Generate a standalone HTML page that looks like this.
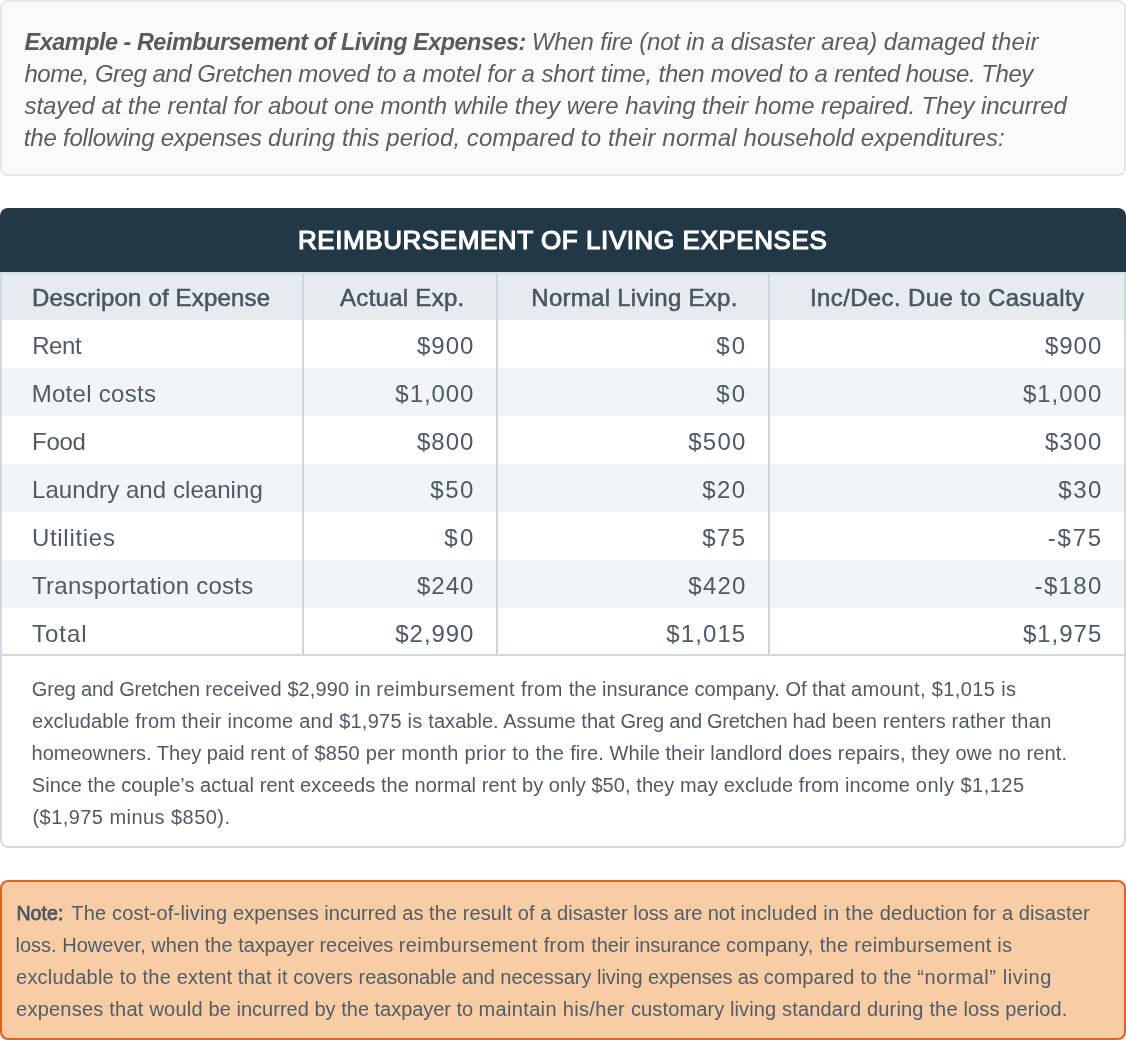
<!DOCTYPE html>
<html lang="en">
<head>
<meta charset="utf-8">
<title>Reimbursement of Living Expenses</title>
<style>
*{box-sizing:border-box;margin:0;padding:0}
html,body{width:1126px;height:1040px;background:#fff;overflow:hidden}
body{font-family:"Liberation Sans",sans-serif;position:relative}
.ln{display:block;white-space:nowrap}
.example{position:absolute;left:0;top:0;width:1126px;height:176px;border:2px solid #e5e9ed;border-radius:8px;background:#f9fafb;padding:23.5px 22px 20.5px;font-size:24px;line-height:32px;font-style:italic;color:#5d5d5d}
.example b{color:#5a5a5a;font-weight:bold;font-size:23.4px}
.card{position:absolute;left:0;top:208px;width:1126px;height:640px;border-radius:8px;overflow:hidden;background:#fff}
.card .frame{position:absolute;left:0;top:64px;width:1126px;height:576px;border:2px solid #d1d8df;border-top:none;border-radius:0 0 8px 8px;z-index:5}
.title{position:absolute;left:0;top:0;width:1126px;height:64px;background:#213846;color:#fff;font-weight:normal;-webkit-text-stroke:1.2px #fff;font-size:26px;line-height:64px;white-space:nowrap}
.title span{position:absolute!important;top:0}
.row{position:absolute;left:0;width:1126px;height:48px;font-size:24px;line-height:48px;color:#4f5a65}
.row.alt{background:#f1f5f8}
.row.head{background:#e6ebef;color:#4a5560;-webkit-text-stroke:0.55px #4a5560}
.row.head:before{content:"";position:absolute;left:0;top:0;width:100%;height:1px;background:#dee3e7}
.row.head:after{content:"";position:absolute;left:0;top:1px;width:100%;height:1px;background:#d1d8df}
.c{position:absolute;top:2px;left:0;height:48px;white-space:nowrap}
.vd{position:absolute;top:65px;width:2px;height:381px;background:#ced5dc;z-index:4}
.hsep{position:absolute;left:0;top:446px;width:1126px;height:2px;background:#d1d8df;z-index:4}
.para{position:absolute;left:0;top:465px;font-size:20px;line-height:32px;color:#4f5a65}
.note{position:absolute;left:0;top:880px;width:1126px;height:160px;border:2px solid #e8601f;border-radius:8px;background:#f8cda3;padding:15px 0 13px;font-size:20px;line-height:32px;color:#4f5d6b}
.note b{font-weight:normal;font-size:19.6px;color:#4a5764;-webkit-text-stroke:0.75px #4a5764}
.example,.card,.note{will-change:transform}

</style>
</head>
<body>
<div class="example">
<span class="ln"><b><span id="e1b" style="letter-spacing:-0.463px;position:relative;left:0.57px">Example - Reimbursement of Living Expenses:</span></b> <span id="e1r" style="position:relative;left:-0.24px"><span id="e1r_0" style="letter-spacing:-0.190px">When fire (not in a </span><span id="e1r_1" style="letter-spacing:-0.022px">disaster area) </span><span id="e1r_2" style="letter-spacing:0.097px">damaged their</span></span></span>
<span class="ln"><span id="e2" style="position:relative;left:0.44px"><span id="e2_0" style="letter-spacing:-0.486px">home, Greg and Gretchen </span><span id="e2_1" style="letter-spacing:-0.101px">moved to a motel for a short </span><span id="e2_2" style="letter-spacing:-0.184px">time, then moved to a </span><span id="e2_3" style="letter-spacing:-0.453px">rented house. They</span></span></span>
<span class="ln"><span id="e3" style="position:relative;left:0.61px"><span id="e3_0" style="letter-spacing:-0.087px">stayed at the rental for about one </span><span id="e3_1" style="letter-spacing:-0.032px">month while they were </span><span id="e3_2" style="letter-spacing:-0.090px">having their home repaired. </span><span id="e3_3" style="letter-spacing:-0.128px">They incurred</span></span></span>
<span class="ln"><span id="e4" style="position:relative;left:-0.15px"><span id="e4_0" style="letter-spacing:-0.228px">the following expenses </span><span id="e4_1" style="letter-spacing:0.065px">during this period, compared </span><span id="e4_2" style="letter-spacing:0.165px">to their normal </span><span id="e4_3" style="letter-spacing:-0.023px">household expenditures:</span></span></span>
</div>
<div class="card">
<div class="title"><span id="t0" style="letter-spacing:0.579px;position:relative;left:297.90px">REIMBURSEMENT OF LIVING EXPENSES</span></div>
<div class="row head" style="top:64px"><span class="c c1"><span id="h1" style="letter-spacing:0.169px;position:relative;left:32.01px">Descripon of Expense</span></span><span class="c c2"><span id="h2" style="letter-spacing:0.275px;position:relative;left:340.09px">Actual Exp.</span></span><span class="c c3"><span id="h3" style="letter-spacing:0.270px;position:relative;left:531.35px">Normal Living Exp.</span></span><span class="c c4"><span id="h4" style="letter-spacing:0.370px;position:relative;left:810.01px">Inc/Dec. Due to Casualty</span></span></div>
<div class="row" style="top:112px"><span class="c c1"><span id="r1a" style="letter-spacing:-0.419px;position:relative;left:32.16px">Rent</span></span><span class="c c2"><span id="r1b" style="letter-spacing:1.034px;position:relative;left:416.95px">$900</span></span><span class="c c3"><span id="r1c" style="letter-spacing:2.021px;position:relative;left:716.37px">$0</span></span><span class="c c4"><span id="r1d" style="letter-spacing:0.980px;position:relative;left:1044.95px">$900</span></span></div>
<div class="row alt" style="top:160px"><span class="c c1"><span id="r2a" style="letter-spacing:0.283px;position:relative;left:31.70px">Motel costs</span></span><span class="c c2"><span id="r2b" style="letter-spacing:0.924px;position:relative;left:395.36px">$1,000</span></span><span class="c c3"><span id="r2c" style="letter-spacing:2.051px;position:relative;left:716.37px">$0</span></span><span class="c c4"><span id="r2d" style="letter-spacing:0.985px;position:relative;left:1022.96px">$1,000</span></span></div>
<div class="row" style="top:208px"><span class="c c1"><span id="r3a" style="letter-spacing:-0.281px;position:relative;left:32.00px">Food</span></span><span class="c c2"><span id="r3b" style="letter-spacing:1.024px;position:relative;left:416.95px">$800</span></span><span class="c c3"><span id="r3c" style="letter-spacing:1.162px;position:relative;left:688.36px">$500</span></span><span class="c c4"><span id="r3d" style="letter-spacing:0.980px;position:relative;left:1044.95px">$300</span></span></div>
<div class="row alt" style="top:256px"><span class="c c1"><span id="r4a" style="letter-spacing:0.064px;position:relative;left:32.05px">Laundry and cleaning</span></span><span class="c c2"><span id="r4b" style="letter-spacing:1.519px;position:relative;left:430.36px">$50</span></span><span class="c c3"><span id="r4c" style="letter-spacing:1.350px;position:relative;left:702.36px">$20</span></span><span class="c c4"><span id="r4d" style="letter-spacing:1.471px;position:relative;left:1058.36px">$30</span></span></div>
<div class="row" style="top:304px"><span class="c c1"><span id="r5a" style="letter-spacing:0.712px;position:relative;left:31.88px">Utilities</span></span><span class="c c2"><span id="r5b" style="letter-spacing:2.356px;position:relative;left:444.36px">$0</span></span><span class="c c3"><span id="r5c" style="letter-spacing:1.376px;position:relative;left:702.37px">$75</span></span><span class="c c4"><span id="r5d" style="letter-spacing:1.761px;position:relative;left:1047.86px">-$75</span></span></div>
<div class="row alt" style="top:352px"><span class="c c1"><span id="r6a" style="letter-spacing:0.242px;position:relative;left:32.07px">Transportation costs</span></span><span class="c c2"><span id="r6b" style="letter-spacing:1.036px;position:relative;left:416.96px">$240</span></span><span class="c c3"><span id="r6c" style="letter-spacing:1.170px;position:relative;left:688.37px">$420</span></span><span class="c c4"><span id="r6d" style="letter-spacing:1.334px;position:relative;left:1034.60px">-$180</span></span></div>
<div class="row" style="top:400px"><span class="c c1"><span id="r7a" style="letter-spacing:0.975px;position:relative;left:32.04px">Total</span></span><span class="c c2"><span id="r7b" style="letter-spacing:0.937px;position:relative;left:395.32px">$2,990</span></span><span class="c c3"><span id="r7c" style="letter-spacing:1.077px;position:relative;left:666.36px">$1,015</span></span><span class="c c4"><span id="r7d" style="letter-spacing:0.980px;position:relative;left:1022.95px">$1,975</span></span></div>
<div class="vd" style="left:302px"></div>
<div class="vd" style="left:496px"></div>
<div class="vd" style="left:768px"></div>
<div class="hsep"></div>
<div class="para">
<span class="ln"><span id="p1" style="position:relative;left:31.87px"><span id="p1_0" style="letter-spacing:-0.186px">Greg and Gretchen </span><span id="p1_1" style="letter-spacing:0.106px">received $2,990 in </span><span id="p1_2" style="letter-spacing:0.415px">reimbursement from </span><span id="p1_3" style="letter-spacing:0.012px">the insurance company. Of that </span><span id="p1_4" style="letter-spacing:0.367px">amount, $1,015 is</span></span></span>
<span class="ln"><span id="p2" style="position:relative;left:32.11px"><span id="p2_0" style="letter-spacing:0.189px">excludable from their </span><span id="p2_1" style="letter-spacing:0.246px">income and $1,975 is </span><span id="p2_2" style="letter-spacing:0.043px">taxable. Assume that </span><span id="p2_3" style="letter-spacing:-0.259px">Greg and Gretchen </span><span id="p2_4" style="letter-spacing:0.132px">had been renters </span><span id="p2_5" style="letter-spacing:0.300px">rather than</span></span></span>
<span class="ln"><span id="p3" style="position:relative;left:31.55px"><span id="p3_0" style="letter-spacing:0.000px">homeowners. They paid </span><span id="p3_1" style="letter-spacing:0.254px">rent of $850 per </span><span id="p3_2" style="letter-spacing:0.348px">month prior to the </span><span id="p3_3" style="letter-spacing:0.064px">fire. While their </span><span id="p3_4" style="letter-spacing:0.137px">landlord does repairs, </span><span id="p3_5" style="letter-spacing:0.139px">they owe no rent.</span></span></span>
<span class="ln"><span id="p4" style="position:relative;left:31.79px"><span id="p4_0" style="letter-spacing:0.042px">Since the couple’s </span><span id="p4_1" style="letter-spacing:0.089px">actual rent exceeds the </span><span id="p4_2" style="letter-spacing:0.057px">normal rent by only </span><span id="p4_3" style="letter-spacing:0.077px">$50, they may exclude </span><span id="p4_4" style="letter-spacing:0.119px">from income </span><span id="p4_5" style="letter-spacing:0.486px">only $1,125</span></span></span>
<span class="ln"><span id="p5" style="letter-spacing:0.444px;position:relative;left:32.51px">($1,975 minus $850).</span></span>
</div>
<div class="frame"></div>
</div>
<div class="note">
<span class="ln"><b><span id="n1b" style="letter-spacing:0.058px;position:relative;left:14.39px">Note:</span></b> <span id="n1r" style="position:relative;left:16.52px"><span id="n1r_0" style="letter-spacing:0.208px">The cost-of-living </span><span id="n1r_1" style="letter-spacing:0.020px">expenses incurred as </span><span id="n1r_2" style="letter-spacing:0.077px">the result of a disaster </span><span id="n1r_3" style="letter-spacing:-0.135px">loss are not </span><span id="n1r_4" style="letter-spacing:0.297px">included in the </span><span id="n1r_5" style="letter-spacing:0.061px">deduction for a </span><span id="n1r_6" style="letter-spacing:0.121px">disaster</span></span></span>
<span class="ln"><span id="n2" style="position:relative;left:13.43px"><span id="n2_0" style="letter-spacing:0.018px">loss. However, when the </span><span id="n2_1" style="letter-spacing:-0.102px">taxpayer receives </span><span id="n2_2" style="letter-spacing:0.430px">reimbursement from </span><span id="n2_3" style="letter-spacing:-0.135px">their insurance </span><span id="n2_4" style="letter-spacing:0.324px">company, the </span><span id="n2_5" style="letter-spacing:0.294px">reimbursement is</span></span></span>
<span class="ln"><span id="n3" style="position:relative;left:14.06px"><span id="n3_0" style="letter-spacing:0.222px">excludable to the </span><span id="n3_1" style="letter-spacing:0.127px">extent that it covers </span><span id="n3_2" style="letter-spacing:-0.118px">reasonable and </span><span id="n3_3" style="letter-spacing:-0.002px">necessary living </span><span id="n3_4" style="letter-spacing:-0.177px">expenses as </span><span id="n3_5" style="letter-spacing:0.213px">compared to the </span><span id="n3_6" style="letter-spacing:0.603px">“normal” living</span></span></span>
<span class="ln"><span id="n4" style="position:relative;left:14.06px"><span id="n4_0" style="letter-spacing:0.233px">expenses that would </span><span id="n4_1" style="letter-spacing:0.018px">be incurred by the </span><span id="n4_2" style="letter-spacing:-0.044px">taxpayer to </span><span id="n4_3" style="letter-spacing:0.332px">maintain his/her </span><span id="n4_4" style="letter-spacing:0.120px">customary living </span><span id="n4_5" style="letter-spacing:0.181px">standard during </span><span id="n4_6" style="letter-spacing:0.157px">the loss period.</span></span></span>
</div>
</body>
</html>
